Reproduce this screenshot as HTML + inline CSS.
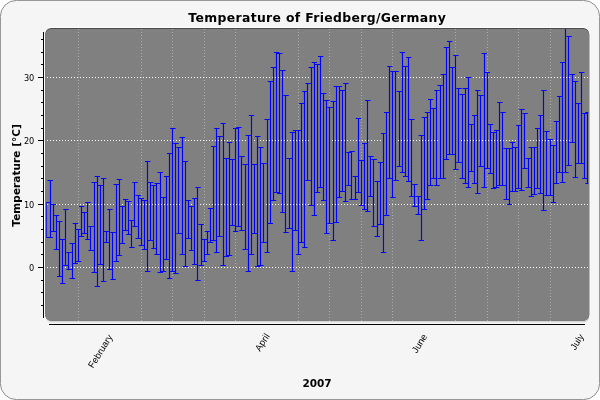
<!DOCTYPE html>
<html><head><meta charset="utf-8"><title>Temperature of Friedberg/Germany</title>
<style>
html,body{margin:0;padding:0;background:#fff;}
body{width:600px;height:400px;overflow:hidden;}
svg{display:block;}
text{font-family:"DejaVu Sans","Liberation Sans",sans-serif;fill:#000;}
.b{font-weight:bold;}
.xl{font-family:"Liberation Sans","DejaVu Sans",sans-serif;font-size:9.4px;}
</style></head><body>
<svg width="600" height="400" viewBox="0 0 600 400">
<defs><clipPath id="cp"><rect x="46.3" y="29" width="542" height="292"/></clipPath></defs>
<rect x="0.4" y="0.4" width="599.2" height="399.2" rx="16" ry="16" fill="#f5f5f5" stroke="#787878" stroke-width="0.85"/>

<rect x="44.4" y="27.1" width="545.6" height="295.4" rx="7" fill="#ffffff"/>
<rect x="45.6" y="29" width="543.9" height="293.4" rx="6" fill="#d6d6d6"/>
<rect x="45.2" y="28" width="544" height="292.7" rx="6" fill="#4a4a4a"/>
<rect x="45.2" y="29" width="544" height="291.7" rx="6" fill="#808080"/>
<line x1="78.5" y1="29" x2="78.5" y2="321" stroke="#ababab" stroke-width="1" stroke-dasharray="1 2"/>
<line x1="141.5" y1="29" x2="141.5" y2="321" stroke="#ababab" stroke-width="1" stroke-dasharray="1 2"/>
<line x1="172.5" y1="29" x2="172.5" y2="321" stroke="#ababab" stroke-width="1" stroke-dasharray="1 2"/>
<line x1="204.5" y1="29" x2="204.5" y2="321" stroke="#ababab" stroke-width="1" stroke-dasharray="1 2"/>
<line x1="235.5" y1="29" x2="235.5" y2="321" stroke="#ababab" stroke-width="1" stroke-dasharray="1 2"/>
<line x1="298.5" y1="29" x2="298.5" y2="321" stroke="#ababab" stroke-width="1" stroke-dasharray="1 2"/>
<line x1="329.5" y1="29" x2="329.5" y2="321" stroke="#ababab" stroke-width="1" stroke-dasharray="1 2"/>
<line x1="361.5" y1="29" x2="361.5" y2="321" stroke="#ababab" stroke-width="1" stroke-dasharray="1 2"/>
<line x1="392.5" y1="29" x2="392.5" y2="321" stroke="#ababab" stroke-width="1" stroke-dasharray="1 2"/>
<line x1="455.5" y1="29" x2="455.5" y2="321" stroke="#ababab" stroke-width="1" stroke-dasharray="1 2"/>
<line x1="487.5" y1="29" x2="487.5" y2="321" stroke="#ababab" stroke-width="1" stroke-dasharray="1 2"/>
<line x1="518.5" y1="29" x2="518.5" y2="321" stroke="#ababab" stroke-width="1" stroke-dasharray="1 2"/>
<line x1="550.5" y1="29" x2="550.5" y2="321" stroke="#ababab" stroke-width="1" stroke-dasharray="1 2"/>
<line x1="47" y1="267.5" x2="588" y2="267.5" stroke="#fff" stroke-width="1" stroke-dasharray="1 2"/>
<line x1="47" y1="204.5" x2="588" y2="204.5" stroke="#fff" stroke-width="1" stroke-dasharray="1 2"/>
<line x1="47" y1="140.5" x2="588" y2="140.5" stroke="#fff" stroke-width="1" stroke-dasharray="1 2"/>
<line x1="47" y1="77.5" x2="588" y2="77.5" stroke="#fff" stroke-width="1" stroke-dasharray="1 2"/>
<line x1="43.5" y1="32" x2="43.5" y2="318" stroke="#000" stroke-width="1"/>
<line x1="41" y1="305.5" x2="43" y2="305.5" stroke="#000"/>
<line x1="41" y1="292.5" x2="43" y2="292.5" stroke="#000"/>
<line x1="41" y1="280.5" x2="43" y2="280.5" stroke="#000"/>
<line x1="38" y1="267.5" x2="43" y2="267.5" stroke="#000"/>
<text x="34.3" y="270.5" font-size="8.2" text-anchor="end" fill="#1a1a1a">0</text>
<line x1="41" y1="254.5" x2="43" y2="254.5" stroke="#000"/>
<line x1="41" y1="242.5" x2="43" y2="242.5" stroke="#000"/>
<line x1="41" y1="229.5" x2="43" y2="229.5" stroke="#000"/>
<line x1="41" y1="216.5" x2="43" y2="216.5" stroke="#000"/>
<line x1="38" y1="204.5" x2="43" y2="204.5" stroke="#000"/>
<text x="34.3" y="207.5" font-size="8.2" text-anchor="end" fill="#1a1a1a">10</text>
<line x1="41" y1="191.5" x2="43" y2="191.5" stroke="#000"/>
<line x1="41" y1="178.5" x2="43" y2="178.5" stroke="#000"/>
<line x1="41" y1="166.5" x2="43" y2="166.5" stroke="#000"/>
<line x1="41" y1="153.5" x2="43" y2="153.5" stroke="#000"/>
<line x1="38" y1="140.5" x2="43" y2="140.5" stroke="#000"/>
<text x="34.3" y="143.5" font-size="8.2" text-anchor="end" fill="#1a1a1a">20</text>
<line x1="41" y1="128.5" x2="43" y2="128.5" stroke="#000"/>
<line x1="41" y1="115.5" x2="43" y2="115.5" stroke="#000"/>
<line x1="41" y1="102.5" x2="43" y2="102.5" stroke="#000"/>
<line x1="41" y1="90.5" x2="43" y2="90.5" stroke="#000"/>
<line x1="38" y1="77.5" x2="43" y2="77.5" stroke="#000"/>
<text x="34.3" y="80.5" font-size="8.2" text-anchor="end" fill="#1a1a1a">30</text>
<line x1="41" y1="64.5" x2="43" y2="64.5" stroke="#000"/>
<line x1="41" y1="52.5" x2="43" y2="52.5" stroke="#000"/>
<line x1="41" y1="39.5" x2="43" y2="39.5" stroke="#000"/>
<line x1="49" y1="324.5" x2="585" y2="324.5" stroke="#000" stroke-width="1"/>
<g clip-path="url(#cp)" stroke="#0000ff" stroke-width="1.15" fill="none">
<path d="M46.5 202.0V238.0M44.35 202.5h5.4M44.35 237.5h5.4M50.5 180.0V238.0M47.50 180.5h5.4M47.50 237.5h5.4M53.5 204.0V232.0M50.64 204.5h5.4M50.64 231.5h5.4M56.5 215.0V250.0M53.79 215.5h5.4M53.79 249.5h5.4M59.5 221.0V277.0M56.93 221.5h5.4M56.93 276.5h5.4M62.5 239.0V284.0M60.08 239.5h5.4M60.08 283.5h5.4M65.5 209.0V266.0M63.22 209.5h5.4M63.22 265.5h5.4M68.5 252.0V270.0M66.36 252.5h5.4M66.36 269.5h5.4M72.5 243.0V279.0M69.51 243.5h5.4M69.51 278.5h5.4M75.5 223.0V264.0M72.66 223.5h5.4M72.66 263.5h5.4M78.5 229.0V262.0M75.80 229.5h5.4M75.80 261.5h5.4M81.5 206.0V237.0M78.95 206.5h5.4M78.95 236.5h5.4M84.5 212.0V234.0M82.09 212.5h5.4M82.09 233.5h5.4M87.5 202.0V240.0M85.23 202.5h5.4M85.23 239.5h5.4M90.5 226.0V251.0M88.38 226.5h5.4M88.38 250.5h5.4M94.5 182.0V273.0M91.52 182.5h5.4M91.52 272.5h5.4M97.5 176.0V287.0M94.67 176.5h5.4M94.67 286.5h5.4M100.5 185.0V265.0M97.82 185.5h5.4M97.82 264.5h5.4M103.5 178.0V282.0M100.96 178.5h5.4M100.96 281.5h5.4M106.5 231.0V243.0M104.11 231.5h5.4M104.11 242.5h5.4M109.5 209.0V270.0M107.25 209.5h5.4M107.25 269.5h5.4M112.5 232.0V280.0M110.39 232.5h5.4M110.39 279.5h5.4M116.5 184.0V262.0M113.54 184.5h5.4M113.54 261.5h5.4M119.5 179.0V256.0M116.68 179.5h5.4M116.68 255.5h5.4M122.5 206.0V244.0M119.83 206.5h5.4M119.83 243.5h5.4M125.5 199.0V231.0M122.98 199.5h5.4M122.98 230.5h5.4M128.5 201.0V235.0M126.12 201.5h5.4M126.12 234.5h5.4M131.5 220.0V248.0M129.26 220.5h5.4M129.26 247.5h5.4M134.5 182.0V227.0M132.41 182.5h5.4M132.41 226.5h5.4M138.5 195.0V239.0M135.55 195.5h5.4M135.55 238.5h5.4M141.5 198.0V246.0M138.70 198.5h5.4M138.70 245.5h5.4M144.5 200.0V250.0M141.84 200.5h5.4M141.84 249.5h5.4M147.5 161.0V272.0M144.99 161.5h5.4M144.99 271.5h5.4M150.5 182.0V241.0M148.13 182.5h5.4M148.13 240.5h5.4M153.5 185.0V249.0M151.28 185.5h5.4M151.28 248.5h5.4M156.5 183.0V255.0M154.42 183.5h5.4M154.42 254.5h5.4M160.5 172.0V273.0M157.57 172.5h5.4M157.57 272.5h5.4M163.5 197.0V272.0M160.71 197.5h5.4M160.71 271.5h5.4M166.5 176.0V260.0M163.86 176.5h5.4M163.86 259.5h5.4M169.5 153.0V279.0M167.00 153.5h5.4M167.00 278.5h5.4M172.5 128.0V272.0M170.15 128.5h5.4M170.15 271.5h5.4M175.5 143.0V274.0M173.29 143.5h5.4M173.29 273.5h5.4M178.5 147.0V234.0M176.44 147.5h5.4M176.44 233.5h5.4M182.5 137.0V255.0M179.59 137.5h5.4M179.59 254.5h5.4M185.5 161.0V267.0M182.73 161.5h5.4M182.73 266.5h5.4M188.5 200.0V239.0M185.88 200.5h5.4M185.88 238.5h5.4M191.5 206.0V251.0M189.02 206.5h5.4M189.02 250.5h5.4M194.5 198.0V265.0M192.16 198.5h5.4M192.16 264.5h5.4M197.5 187.0V281.0M195.31 187.5h5.4M195.31 280.5h5.4M201.5 224.0V266.0M198.45 224.5h5.4M198.45 265.5h5.4M204.5 239.0V262.0M201.60 239.5h5.4M201.60 261.5h5.4M207.5 231.0V255.0M204.75 231.5h5.4M204.75 254.5h5.4M210.5 208.0V243.0M207.89 208.5h5.4M207.89 242.5h5.4M213.5 146.0V241.0M211.03 146.5h5.4M211.03 240.5h5.4M216.5 128.0V253.0M214.18 128.5h5.4M214.18 252.5h5.4M219.5 136.0V237.0M217.32 136.5h5.4M217.32 236.5h5.4M223.5 123.0V266.0M220.47 123.5h5.4M220.47 265.5h5.4M226.5 158.0V257.0M223.62 158.5h5.4M223.62 256.5h5.4M229.5 142.0V256.0M226.76 142.5h5.4M226.76 255.5h5.4M232.5 159.0V226.0M229.91 159.5h5.4M229.91 225.5h5.4M235.5 128.0V232.0M233.05 128.5h5.4M233.05 231.5h5.4M238.5 127.0V227.0M236.19 127.5h5.4M236.19 226.5h5.4M241.5 156.0V231.0M239.34 156.5h5.4M239.34 230.5h5.4M245.5 164.0V250.0M242.48 164.5h5.4M242.48 249.5h5.4M248.5 135.0V272.0M245.63 135.5h5.4M245.63 271.5h5.4M251.5 115.0V255.0M248.78 115.5h5.4M248.78 254.5h5.4M254.5 164.0V234.0M251.92 164.5h5.4M251.92 233.5h5.4M257.5 136.0V267.0M255.06 136.5h5.4M255.06 266.5h5.4M260.5 147.0V266.0M258.21 147.5h5.4M258.21 265.5h5.4M263.5 163.0V243.0M261.35 163.5h5.4M261.35 242.5h5.4M267.5 119.0V253.0M264.50 119.5h5.4M264.50 252.5h5.4M270.5 81.0V224.0M267.64 81.5h5.4M267.64 223.5h5.4M273.5 67.0V201.0M270.79 67.5h5.4M270.79 200.5h5.4M276.5 52.0V193.0M273.94 52.5h5.4M273.94 192.5h5.4M279.5 53.0V194.0M277.08 53.5h5.4M277.08 193.5h5.4M282.5 70.0V213.0M280.22 70.5h5.4M280.22 212.5h5.4M285.5 95.0V233.0M283.37 95.5h5.4M283.37 232.5h5.4M289.5 158.0V229.0M286.51 158.5h5.4M286.51 228.5h5.4M292.5 132.0V272.0M289.66 132.5h5.4M289.66 271.5h5.4M295.5 130.0V231.0M292.81 130.5h5.4M292.81 230.5h5.4M298.5 130.0V255.0M295.95 130.5h5.4M295.95 254.5h5.4M301.5 103.0V243.0M299.09 103.5h5.4M299.09 242.5h5.4M304.5 91.0V248.0M302.24 91.5h5.4M302.24 247.5h5.4M307.5 83.0V181.0M305.38 83.5h5.4M305.38 180.5h5.4M311.5 67.0V206.0M308.53 67.5h5.4M308.53 205.5h5.4M314.5 62.0V216.0M311.67 62.5h5.4M311.67 215.5h5.4M317.5 64.0V193.0M314.82 64.5h5.4M314.82 192.5h5.4M320.5 56.0V188.0M317.96 56.5h5.4M317.96 187.5h5.4M323.5 93.0V201.0M321.11 93.5h5.4M321.11 200.5h5.4M326.5 100.0V234.0M324.25 100.5h5.4M324.25 233.5h5.4M329.5 107.0V224.0M327.40 107.5h5.4M327.40 223.5h5.4M333.5 101.0V241.0M330.54 101.5h5.4M330.54 240.5h5.4M336.5 86.0V223.0M333.69 86.5h5.4M333.69 222.5h5.4M339.5 86.0V198.0M336.83 86.5h5.4M336.83 197.5h5.4M342.5 90.0V192.0M339.98 90.5h5.4M339.98 191.5h5.4M345.5 83.0V202.0M343.12 83.5h5.4M343.12 201.5h5.4M348.5 152.0V186.0M346.27 152.5h5.4M346.27 185.5h5.4M351.5 151.0V200.0M349.41 151.5h5.4M349.41 199.5h5.4M355.5 176.0V200.0M352.56 176.5h5.4M352.56 199.5h5.4M358.5 118.0V193.0M355.70 118.5h5.4M355.70 192.5h5.4M361.5 160.0V206.0M358.85 160.5h5.4M358.85 205.5h5.4M364.5 143.0V210.0M361.99 143.5h5.4M361.99 209.5h5.4M367.5 100.0V212.0M365.14 100.5h5.4M365.14 211.5h5.4M370.5 156.0V197.0M368.28 156.5h5.4M368.28 196.5h5.4M373.5 159.0V227.0M371.43 159.5h5.4M371.43 226.5h5.4M377.5 181.0V237.0M374.57 181.5h5.4M374.57 236.5h5.4M380.5 162.0V225.0M377.72 162.5h5.4M377.72 224.5h5.4M383.5 133.0V253.0M380.86 133.5h5.4M380.86 252.5h5.4M386.5 112.0V216.0M384.01 112.5h5.4M384.01 215.5h5.4M389.5 66.0V179.0M387.15 66.5h5.4M387.15 178.5h5.4M392.5 71.0V198.0M390.30 71.5h5.4M390.30 197.5h5.4M395.5 71.0V181.0M393.44 71.5h5.4M393.44 180.5h5.4M399.5 91.0V167.0M396.59 91.5h5.4M396.59 166.5h5.4M402.5 52.0V173.0M399.73 52.5h5.4M399.73 172.5h5.4M405.5 66.0V177.0M402.88 66.5h5.4M402.88 176.5h5.4M408.5 57.0V182.0M406.02 57.5h5.4M406.02 181.5h5.4M411.5 119.0V197.0M409.17 119.5h5.4M409.17 196.5h5.4M414.5 184.0V207.0M412.31 184.5h5.4M412.31 206.5h5.4M418.5 196.0V215.0M415.46 196.5h5.4M415.46 214.5h5.4M421.5 135.0V241.0M418.60 135.5h5.4M418.60 240.5h5.4M424.5 117.0V210.0M421.75 117.5h5.4M421.75 209.5h5.4M427.5 112.0V200.0M424.89 112.5h5.4M424.89 199.5h5.4M430.5 99.0V186.0M428.04 99.5h5.4M428.04 185.5h5.4M433.5 108.0V179.0M431.18 108.5h5.4M431.18 178.5h5.4M436.5 90.0V186.0M434.33 90.5h5.4M434.33 185.5h5.4M440.5 85.0V179.0M437.47 85.5h5.4M437.47 178.5h5.4M443.5 74.0V179.0M440.62 74.5h5.4M440.62 178.5h5.4M446.5 47.0V160.0M443.76 47.5h5.4M443.76 159.5h5.4M449.5 41.0V155.0M446.91 41.5h5.4M446.91 154.5h5.4M452.5 67.0V155.0M450.05 67.5h5.4M450.05 154.5h5.4M455.5 55.0V170.0M453.20 55.5h5.4M453.20 169.5h5.4M458.5 88.0V163.0M456.34 88.5h5.4M456.34 162.5h5.4M462.5 94.0V179.0M459.49 94.5h5.4M459.49 178.5h5.4M465.5 88.0V184.0M462.63 88.5h5.4M462.63 183.5h5.4M468.5 77.0V188.0M465.78 77.5h5.4M465.78 187.5h5.4M471.5 124.0V172.0M468.92 124.5h5.4M468.92 171.5h5.4M474.5 115.0V184.0M472.07 115.5h5.4M472.07 183.5h5.4M477.5 90.0V194.0M475.21 90.5h5.4M475.21 193.5h5.4M480.5 95.0V167.0M478.36 95.5h5.4M478.36 166.5h5.4M484.5 53.0V188.0M481.50 53.5h5.4M481.50 187.5h5.4M487.5 72.0V169.0M484.65 72.5h5.4M484.65 168.5h5.4M490.5 124.0V174.0M487.79 124.5h5.4M487.79 173.5h5.4M493.5 132.0V189.0M490.94 132.5h5.4M490.94 188.5h5.4M496.5 130.0V188.0M494.08 130.5h5.4M494.08 187.5h5.4M499.5 102.0V186.0M497.23 102.5h5.4M497.23 185.5h5.4M502.5 112.0V186.0M500.37 112.5h5.4M500.37 185.5h5.4M506.5 148.0V200.0M503.52 148.5h5.4M503.52 199.5h5.4M509.5 148.0V205.0M506.66 148.5h5.4M506.66 204.5h5.4M512.5 142.0V192.0M509.81 142.5h5.4M509.81 191.5h5.4M515.5 147.0V192.0M512.96 147.5h5.4M512.96 191.5h5.4M518.5 125.0V189.0M516.10 125.5h5.4M516.10 188.5h5.4M521.5 109.0V191.0M519.25 109.5h5.4M519.25 190.5h5.4M524.5 113.0V169.0M522.39 113.5h5.4M522.39 168.5h5.4M528.5 158.0V188.0M525.54 158.5h5.4M525.54 187.5h5.4M531.5 147.0V197.0M528.68 147.5h5.4M528.68 196.5h5.4M534.5 147.0V195.0M531.83 147.5h5.4M531.83 194.5h5.4M537.5 128.0V189.0M534.97 128.5h5.4M534.97 188.5h5.4M540.5 115.0V194.0M538.12 115.5h5.4M538.12 193.5h5.4M543.5 90.0V211.0M541.26 90.5h5.4M541.26 210.5h5.4M546.5 131.0V196.0M544.41 131.5h5.4M544.41 195.5h5.4M550.5 139.0V196.0M547.55 139.5h5.4M547.55 195.5h5.4M553.5 145.0V203.0M550.70 145.5h5.4M550.70 202.5h5.4M556.5 121.0V184.0M553.84 121.5h5.4M553.84 183.5h5.4M559.5 96.0V173.0M556.99 96.5h5.4M556.99 172.5h5.4M562.5 62.0V183.0M560.13 62.5h5.4M560.13 182.5h5.4M565.5 20.0V173.0M563.27 20.5h5.4M563.27 172.5h5.4M568.5 36.0V166.0M566.42 36.5h5.4M566.42 165.5h5.4M572.5 74.0V143.0M569.57 74.5h5.4M569.57 142.5h5.4M575.5 81.0V178.0M572.71 81.5h5.4M572.71 177.5h5.4M578.5 103.0V164.0M575.86 103.5h5.4M575.86 163.5h5.4M581.5 72.0V164.0M579.00 72.5h5.4M579.00 163.5h5.4M584.5 113.0V179.0M582.14 113.5h5.4M582.14 178.5h5.4M587.5 112.0V184.0M585.29 112.5h5.4M585.29 183.5h5.4"/>
</g>
<text class="b" x="188.3" y="21.9" font-size="12.4" textLength="257.5" lengthAdjust="spacing">Temperature of Friedberg/Germany</text>
<text class="b" x="317" y="387" font-size="10.5" text-anchor="middle">2007</text>
<text class="b" transform="translate(19.8,226.7) rotate(-90)" font-size="10.5" textLength="102.6" lengthAdjust="spacing">Temperature [°C]</text>
<text class="xl" transform="translate(113,337) rotate(-58)" text-anchor="end">February</text>
<text class="xl" transform="translate(270,336) rotate(-58)" text-anchor="end">April</text>
<text class="xl" transform="translate(427.6,336.5) rotate(-58)" text-anchor="end">June</text>
<text class="xl" transform="translate(584.2,336.6) rotate(-58)" text-anchor="end">July</text>
</svg></body></html>
